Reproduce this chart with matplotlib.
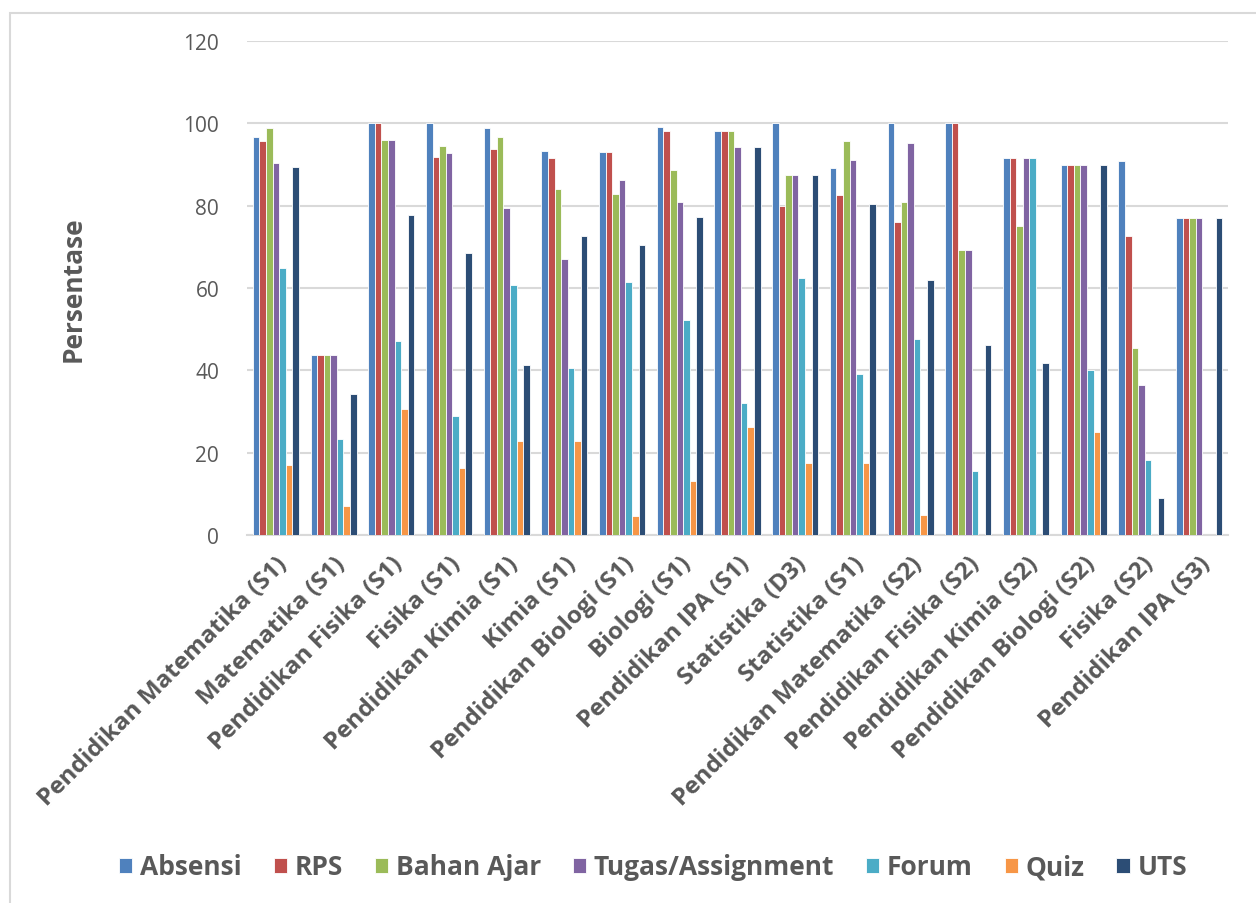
import matplotlib
matplotlib.use("Agg")
import matplotlib.pyplot as plt
import numpy as np
from matplotlib.patches import Rectangle

# data
programs = ["Pendidikan Matematika (S1)", "Matematika (S1)", "Pendidikan Fisika (S1)",
            "Fisika (S1)", "Pendidikan Kimia (S1)", "Kimia (S1)", "Pendidikan Biologi (S1)",
            "Biologi (S1)", "Pendidikan IPA (S1)", "Statistika (D3)", "Statistika (S1)",
            "Pendidikan Matematika (S2)", "Pendidikan Fisika (S2)", "Pendidikan Kimia (S2)",
            "Pendidikan Biologi (S2)", "Fisika (S2)", "Pendidikan IPA (S3)"]

absensi = [96.7, 43.8, 100, 100, 98.9, 93.3, 93.1, 99.0, 98.1, 100, 89.1, 100, 100, 91.7, 90.0, 90.9, 76.9]
rps = [95.7, 43.8, 100, 91.8, 93.8, 91.6, 93.1, 98.1, 98.1, 80.0, 82.6, 76.1, 100, 91.7, 90.0, 72.7, 76.9]
bahan_ajar = [98.9, 43.8, 95.9, 94.5, 96.8, 84.0, 82.9, 88.7, 98.1, 87.4, 95.6, 80.9, 69.2, 75.0, 90.0, 45.5, 76.9]
tugas = [90.4, 43.8, 95.9, 92.8, 79.4, 67.0, 86.2, 80.8, 94.2, 87.4, 91.2, 95.2, 69.2, 91.7, 90.0, 36.4, 76.9]
forum = [64.8, 23.3, 47.1, 28.8, 60.8, 40.6, 61.4, 52.2, 32.1, 62.4, 39.1, 47.6, 15.5, 91.7, 40.0, 18.2, 0]
quiz = [17.1, 7.0, 30.6, 16.3, 22.8, 22.8, 4.6, 13.2, 26.2, 17.6, 17.4, 4.8, 0, 0, 25.0, 0, 0]
uts = [89.3, 34.2, 77.7, 68.4, 41.2, 72.6, 70.4, 77.3, 94.2, 87.4, 80.4, 61.9, 46.2, 41.7, 90.0, 9.1, 76.9]

series_names = ["Absensi", "RPS", "Bahan Ajar", "Tugas/Assignment", "Forum", "Quiz", "UTS"]
series = [absensi, rps, bahan_ajar, tugas, forum, quiz, uts]
colors = ["#4f81bd", "#c0504d", "#9bbb59", "#8064a2", "#4bacc6", "#f79646", "#2c4d75"]

plt.rcParams["font.family"] = ["Open Sans", "DejaVu Sans"]

fig = plt.figure(figsize=(12.56, 9.04), dpi=100)
ax = fig.add_axes([247 / 1256, 1 - 536 / 904, (1228 - 247) / 1256, (536 - 42) / 904])

# chart frame
fig.patches.append(Rectangle((10 / 1256, -0.01), 1.0, 1 - 14 / 904 + 0.01, transform=fig.transFigure,
                             fill=False, edgecolor="#d9d9d9", linewidth=1.5))

x = np.arange(len(programs))
w = 0.114
for i, (name, vals) in enumerate(zip(series_names, series)):
    ax.bar(x + (i - 3) * w, vals, width=w, color=colors[i], edgecolor="white",
           linewidth=0.6, label=name, zorder=3)

ax.set_ylim(0, 120)
ax.set_xlim(-0.5, len(programs) - 0.5)
ax.set_yticks(np.arange(0, 121, 20))
ax.yaxis.grid(True, color="#d9d9d9", linewidth=1.5, zorder=0)
for s in ["top", "right", "left"]:
    ax.spines[s].set_visible(False)
ax.spines["bottom"].set_color("#d9d9d9")
ax.spines["bottom"].set_linewidth(1.5)
ax.tick_params(axis="both", length=0)
ax.tick_params(axis="y", labelsize=15, labelcolor="#595959", pad=20)
ax.set_xticks(x)
ax.set_xticklabels(programs, rotation=45, ha="right", rotation_mode="anchor",
                   fontsize=17.5, fontweight="bold", color="#595959")
ax.tick_params(axis="x", pad=12)

ax.set_ylabel("Persentase", fontsize=19, fontweight="bold", color="#595959", labelpad=70)

fig.legend(loc="center", bbox_to_anchor=(0.520, 1 - 868 / 904), ncol=7, frameon=False,
           prop={"size": 19, "weight": "bold"}, labelcolor="#595959",
           handlelength=0.5, handleheight=0.5, handletextpad=0.3, columnspacing=1.2)

plt.savefig("out.png", dpi=100)
